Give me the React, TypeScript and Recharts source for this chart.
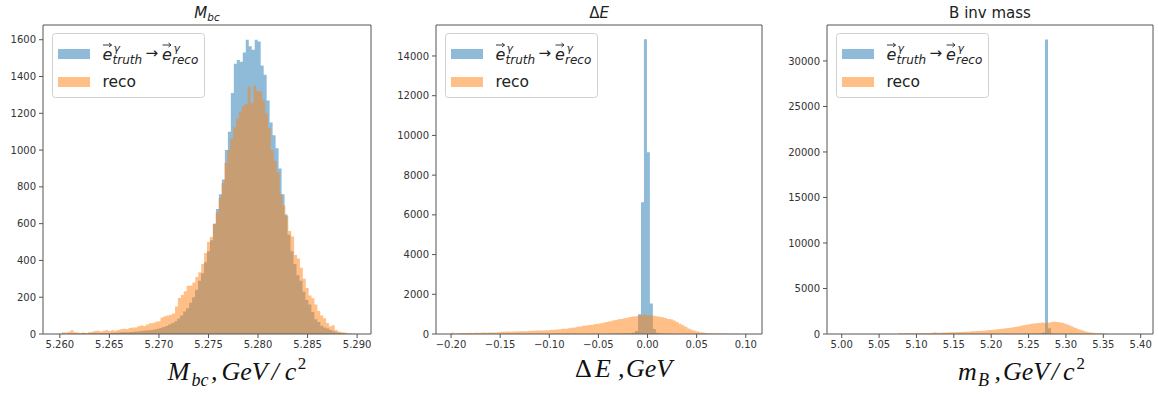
import React from 'react';
import { ComposedChart, Area, XAxis, YAxis, ReferenceLine, Legend } from 'recharts';

const BLUE = '#1f77b4';
const ORANGE = '#ff7f0e';

// ---------- Panel 1: M_bc ----------
const mbcTruthStart = 5.2598;
const mbcTruthWidth = 0.000301;
const mbcTruth = [
  0, 1, 0, 1, 2, 1, 2, 2, 3, 2, 3, 3, 4, 3, 5, 4, 5, 6, 6, 7, 8, 9, 9, 10, 11, 12, 14, 15, 17, 19,
  20, 22, 25, 28, 32, 38, 44, 52, 60, 70, 84, 100, 122, 140, 170, 200, 240, 290, 330, 390, 450, 510, 600, 680, 760, 840,
  1000, 1100, 1310, 1470, 1490, 1480, 1530, 1600, 1565, 1545, 1600, 1590, 1460, 1410, 1270, 1150, 1080, 1010, 900, 760, 650, 540, 450, 380,
  320, 290, 230, 185, 160, 120, 80, 65, 45, 36, 30, 22, 15, 10, 7, 5, 3, 2, 1, 1,
];
const mbcRecoStart = 5.2602;
const mbcRecoWidth = 0.000293;
const mbcReco = [
  10, 8, 12, 20, 10, 8, 6, 8, 6, 9,
  12, 16, 18, 14, 17, 22, 16, 20, 18, 22,
  26, 28, 27, 32, 36, 36, 42, 46, 44, 52,
  58, 60, 66, 70, 90, 96, 100, 104, 112, 150,
  196, 212, 232, 262, 262, 280, 310, 336, 380, 440,
  500, 528, 600, 660, 740, 820,
  930, 1000, 1060, 1124, 1170, 1210, 1240, 1250, 1345, 1255, 1350, 1320, 1320, 1270,
  1200, 1120, 1000, 940, 880, 760, 700, 640, 560, 530,
  430, 410, 360, 300, 250, 210, 195, 160, 125, 100,
  85, 60, 42, 48, 22, 14, 10, 8, 4, 3,
];
const mbcXTicks = [5.26, 5.265, 5.27, 5.275, 5.28, 5.285, 5.29];
const mbcYTicks = [0, 200, 400, 600, 800, 1000, 1200, 1400, 1600];

// ---------- Panel 2: Delta E ----------
const deTruthStart = -0.2002;
const deTruthWidth = 0.003024;
const deTruth = [
  1, 0, 0, 1, 0, 0, 1, 0, 0, 0,
  1, 0, 0, 1, 0, 1, 0, 0, 1, 0,
  1, 0, 1, 0, 1, 1, 0, 1, 1, 0,
  1, 1, 1, 2, 1, 1, 2, 2, 1, 2,
  2, 2, 3, 2, 3, 3, 3, 4, 3, 4,
  3, 4, 5, 6, 8, 10, 12, 15, 20, 25,
  35, 60, 150, 1000, 6640, 14840, 9150, 1540, 250, 60,
  30, 20, 12, 8, 5, 3, 2, 2, 1, 1,
  1, 1, 0, 1, 0, 1, 0, 0, 1, 0,
  0, 1, 0, 0, 0, 1, 0, 0, 0, 1,
];
const deRecoStart = -0.2;
const deRecoWidth = 0.00297;
const deReco = [
  60, 30, 40, 50,
  50, 55, 60, 55, 60, 65, 60, 70, 65, 70, 75, 80, 85,
  110, 115, 120, 110, 125, 130, 135, 140, 135, 150,
  160, 165, 170, 170, 180, 190, 195,
  210, 220, 230, 240, 260, 270, 290, 310,
  330, 360, 380, 410, 430, 450, 470, 500, 520,
  540, 580, 600, 640, 680, 710, 740, 760,
  790, 820, 850, 880, 900,
  930, 960, 980, 950, 940, 920, 900, 870, 840, 800, 760,
  740, 680, 600, 520, 440, 360, 280,
  210, 160, 120, 90, 70,
  50, 40, 35, 30, 25, 22, 20,
  18, 15, 12, 10, 8, 6,
];
const deXTicks = [-0.2, -0.15, -0.1, -0.05, 0, 0.05, 0.1];
const deYTicks = [0, 2000, 4000, 6000, 8000, 10000, 12000, 14000];

// ---------- Panel 3: B inv mass ----------
const mbTruthStart = 5.0;
const mbTruthWidth = 0.004;
const mbTruth = [
  0, 0, 0, 0, 0, 0, 0, 0, 0, 0,
  0, 0, 0, 0, 0, 0, 0, 0, 0, 0,
  0, 0, 0, 0, 0, 0, 0, 0, 0, 0,
  0, 0, 0, 0, 0, 0, 0, 0, 0, 0,
  0, 0, 0, 0, 0, 0, 0, 0, 0, 0,
  0, 0, 0, 0, 0, 1, 1, 1, 1, 2,
  2, 3, 5, 8, 15, 30, 60, 150, 32350, 620,
  60, 20, 8, 4, 2, 1, 1, 0, 0, 0,
  0, 0, 0, 0, 0, 0, 0, 0, 0, 0,
  0, 0, 0, 0, 0, 0, 0, 0, 0, 0,
];
const mbRecoStart = 5.0755;
const mbRecoWidth = 0.002815;
const mbReco = [
  60, 70, 65, 75, 80, 70, 85, 80, 90, 85, 95, 100, 90, 105, 110,
  120, 130, 200, 140, 135, 150, 160, 155, 170, 200, 180, 190, 200, 210, 220, 230,
  240, 250, 260, 280, 290, 300, 320, 330, 350, 370, 390, 410, 430, 450, 470,
  500, 520, 540, 570, 600, 620, 650, 680, 720, 760, 800, 850, 900, 950, 1000,
  1040, 1080, 1120, 1150, 1180, 1200, 1220, 1250, 1240, 1200,
  1230, 1300, 1340, 1350, 1330, 1300, 1260, 1200,
  1120, 1040, 950, 850, 750, 650, 560, 480, 400, 330,
  260, 200, 160, 130, 110, 90, 80, 70, 60, 50, 40,
];
const mbXTicks = [5.0, 5.05, 5.1, 5.15, 5.2, 5.25, 5.3, 5.35, 5.4];
const mbYTicks = [0, 5000, 10000, 15000, 20000, 25000, 30000];

type Hist = { start: number; width: number; counts: number[] };

function buildData(truth: Hist, reco: Hist) {
  const map = new Map<string, any>();
  const add = (h: Hist, key: string) => {
    const n = h.counts.length;
    for (let i = 0; i <= n; i++) {
      const edge = h.start + i * h.width;
      const k = edge.toFixed(7);
      const row = map.get(k) ?? { x: Number(k) };
      row[key] = i < n ? h.counts[i] : 0;
      map.set(k, row);
    }
  };
  add(truth, 'truth');
  add(reco, 'reco');
  return Array.from(map.values()).sort((a, b) => a.x - b.x);
}

const mbcData = buildData(
  { start: mbcTruthStart, width: mbcTruthWidth, counts: mbcTruth },
  { start: mbcRecoStart, width: mbcRecoWidth, counts: mbcReco }
);
const deData = buildData(
  { start: deTruthStart, width: deTruthWidth, counts: deTruth },
  { start: deRecoStart, width: deRecoWidth, counts: deReco }
);
const mbData = buildData(
  { start: mbTruthStart, width: mbTruthWidth, counts: mbTruth },
  { start: mbRecoStart, width: mbRecoWidth, counts: mbReco }
);

const TEXT = '#222';
const SPINE = '#555';
const TICK_FONT = { fontSize: 10, fill: '#333', fontFamily: 'DejaVu Sans' };

function VecArrow({ x, y, w }: { x: number; y: number; w: number }) {
  return (
    <g stroke={TEXT} strokeWidth={0.9} fill="none">
      <path d={`M${x} ${y} L${x + w} ${y}`} />
      <path d={`M${x + w - 2.5} ${y - 2} L${x + w} ${y} L${x + w - 2.5} ${y + 2}`} />
    </g>
  );
}

function LegendBox() {
  return (
    <svg width={154} height={66} style={{ display: 'block', overflow: 'visible' }}>
      <rect x={0.5} y={0.5} width={152} height={64} rx={3} fill="#fff" fillOpacity={0.8} stroke="#d0d0d0" />
      <rect x={6} y={16} width={32} height={10} fill={BLUE} fillOpacity={0.5} />
      <rect x={6} y={44} width={32} height={10} fill={ORANGE} fillOpacity={0.5} />
      <VecArrow x={51} y={12} w={8.5} />
      <VecArrow x={110.5} y={12} w={8.5} />
      <text fontFamily="DejaVu Sans" fill={TEXT}>
        <tspan x={50.5} y={27} fontSize={16} fontStyle="italic">e</tspan>
        <tspan x={61.5} y={18.5} fontSize={11} fontStyle="italic">γ</tspan>
        <tspan x={60.5} y={31} fontSize={12} fontStyle="italic">truth</tspan>
        <tspan x={93.5} y={25} fontSize={15}>→</tspan>
        <tspan x={110} y={27} fontSize={16} fontStyle="italic">e</tspan>
        <tspan x={121.5} y={18.5} fontSize={11} fontStyle="italic">γ</tspan>
        <tspan x={120} y={31} fontSize={12} fontStyle="italic">reco</tspan>
      </text>
      <text x={50.5} y={54} fontSize={15.5} fontFamily="DejaVu Sans" fill={TEXT}>reco</text>
    </svg>
  );
}

type PanelProps = {
  left: number;
  width: number;
  marginLeft: number;
  marginRight: number;
  data: any[];
  xDomain: [number, number];
  xTicks: number[];
  xFmt: (v: number) => string;
  yDomain: [number, number];
  yTicks: number[];
  decor: (plotLeft: number, plotRight: number) => React.ReactNode;
};

function Panel(p: PanelProps) {
  const plotLeft = p.marginLeft + 40;
  const plotRight = p.width - p.marginRight;
  return (
    <div style={{ position: 'absolute', left: p.left, top: 0, width: p.width, height: 394 }}>
      <ComposedChart
        width={p.width}
        height={394}
        data={p.data}
        margin={{ top: 25, right: p.marginRight, bottom: 30, left: p.marginLeft }}
      >
        <XAxis
          dataKey="x"
          type="number"
          domain={p.xDomain}
          allowDataOverflow
          ticks={p.xTicks}
          interval={0}
          tickFormatter={p.xFmt}
          tickSize={4}
          tickMargin={3}
          height={30}
          stroke={SPINE}
          tick={TICK_FONT}
          label={{ content: () => p.decor(plotLeft, plotRight) }}
        />
        <YAxis
          type="number"
          domain={p.yDomain}
          allowDataOverflow
          ticks={p.yTicks}
          interval={0}
          width={40}
          tickSize={4}
          tickMargin={3}
          stroke={SPINE}
          tick={TICK_FONT}
        />
        <Area
          type="stepAfter"
          dataKey="truth"
          name="truth"
          fill={BLUE}
          fillOpacity={0.5}
          stroke="none"
          connectNulls
          dot={false}
          activeDot={false}
          isAnimationActive={false}
        />
        <Area
          type="stepAfter"
          dataKey="reco"
          name="reco"
          fill={ORANGE}
          fillOpacity={0.5}
          stroke="none"
          connectNulls
          dot={false}
          activeDot={false}
          isAnimationActive={false}
        />
        <ReferenceLine y={p.yDomain[1]} stroke={SPINE} />
        <ReferenceLine x={p.xDomain[1]} stroke={SPINE} />
        <Legend
          layout="horizontal"
          verticalAlign="middle"
          align="center"
          wrapperStyle={{ left: plotLeft + 9, top: 33, width: 154, height: 66 }}
          content={() => <LegendBox />}
        />
      </ComposedChart>
    </div>
  );
}

const serif = 'Liberation Serif';

export default function App() {
  return (
    <div style={{ position: 'absolute', left: 0, top: 0, width: 1158, height: 394, background: '#fff' }}>
      <Panel
        left={0}
        width={390}
        marginLeft={3}
        marginRight={19}
        data={mbcData}
        xDomain={[5.2583, 5.2914]}
        xTicks={mbcXTicks}
        xFmt={(v) => v.toFixed(3)}
        yDomain={[0, 1680]}
        yTicks={mbcYTicks}
        decor={(L, R) => (
          <g>
            <text x={(L + R) / 2} y={18} textAnchor="middle" fontFamily="DejaVu Sans" fontSize={15} fill={TEXT}>
              <tspan fontStyle="italic">M</tspan>
              <tspan fontStyle="italic" fontSize={10.5} dy={3}>bc</tspan>
            </text>
            <text y={380} fontFamily={serif} fontStyle="italic" fontSize={26} fill="#111">
              <tspan x={L + 124.7}>M</tspan>
              <tspan x={L + 148.4} dy={6} fontSize={18}>bc</tspan>
              <tspan x={L + 168} dy={-6}>,</tspan>
              <tspan x={L + 178.4}>GeV</tspan>
              <tspan x={L + 228.4}>/</tspan>
              <tspan x={L + 241.7}>c</tspan>
              <tspan x={L + 254.7} dy={-11} fontSize={17} fontStyle="normal">2</tspan>
            </text>
          </g>
        )}
      />
      <Panel
        left={390}
        width={390}
        marginLeft={6}
        marginRight={18}
        data={deData}
        xDomain={[-0.2153, 0.1165]}
        xTicks={deXTicks}
        xFmt={(v) => v.toFixed(2).replace('-', '\u2212')}
        yDomain={[0, 15560]}
        yTicks={deYTicks}
        decor={(L, R) => (
          <g>
            <text x={(L + R) / 2} y={18} textAnchor="middle" fontFamily="DejaVu Sans" fontSize={15} fill={TEXT}>
              <tspan>Δ</tspan>
              <tspan fontStyle="italic">E</tspan>
            </text>
            <text y={377} fontFamily={serif} fontSize={26} fill="#111">
              <tspan x={L + 139}>Δ</tspan>
              <tspan x={L + 159} fontStyle="italic">E</tspan>
              <tspan x={L + 182} fontStyle="italic">,</tspan>
              <tspan x={L + 190} fontStyle="italic">GeV</tspan>
            </text>
          </g>
        )}
      />
      <Panel
        left={780}
        width={378}
        marginLeft={7}
        marginRight={5}
        data={mbData}
        xDomain={[4.9803, 5.4165]}
        xTicks={mbXTicks}
        xFmt={(v) => v.toFixed(2)}
        yDomain={[0, 33950]}
        yTicks={mbYTicks}
        decor={(L, R) => (
          <g>
            <text x={(L + R) / 2} y={18.3} textAnchor="middle" fontFamily="DejaVu Sans" fontSize={15} fill={TEXT}>
              B inv mass
            </text>
            <text y={380} fontFamily={serif} fontStyle="italic" fontSize={26} fill="#111">
              <tspan x={L + 131}>m</tspan>
              <tspan x={L + 151} dy={6} fontSize={18}>B</tspan>
              <tspan x={L + 167.5} dy={-6}>,</tspan>
              <tspan x={L + 176}>GeV</tspan>
              <tspan x={L + 224.5}>/</tspan>
              <tspan x={L + 236}>c</tspan>
              <tspan x={L + 249.5} dy={-11} fontSize={17} fontStyle="normal">2</tspan>
            </text>
          </g>
        )}
      />
    </div>
  );
}
